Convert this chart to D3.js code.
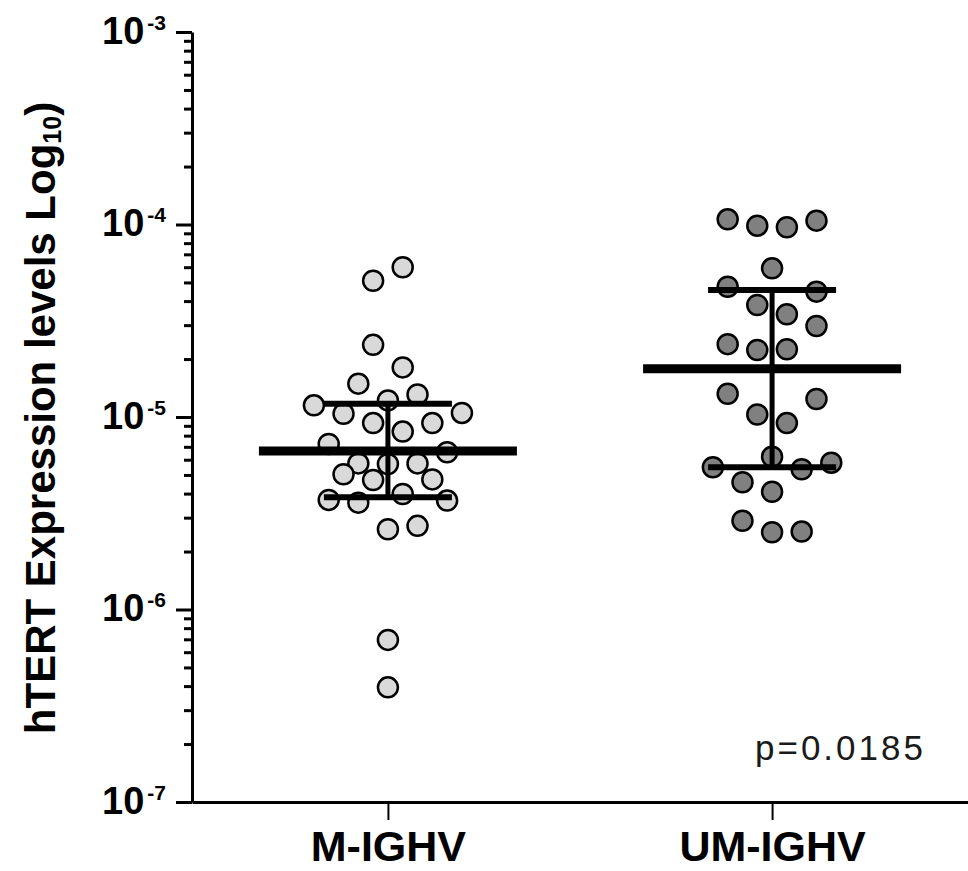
<!DOCTYPE html>
<html>
<head>
<meta charset="utf-8">
<script src="https://cdn.jsdelivr.net/npm/d3@7"></script>
<style>
  body { margin: 0; background: #fff; }
  svg { display: block; font-family: Arial, 'Liberation Sans', sans-serif; }
</style>
</head>
<body>
<script>
// groups on the x axis
const categories = ['M-IGHV', 'UM-IGHV'];

// hTERT values, with the dot column offset of the scatter
const mValues = [5.1e-5, 6.0e-5, 2.37e-5, 1.81e-5, 1.49e-5, 1.22e-5, 1.31e-5, 1.15e-5, 1.04e-5, 1.05e-5,
                 9.3e-6, 8.4e-6, 9.3e-6, 7.24e-6, 6.56e-6, 5.74e-6, 5.70e-6, 5.74e-6, 5.04e-6, 4.71e-6,
                 4.74e-6, 3.71e-6, 3.59e-6, 3.98e-6, 3.68e-6, 2.61e-6, 2.72e-6, 6.95e-7, 3.94e-7];
const mOffsets = [-1, 1, -1, 1, -2, 0, 2, -5, -3, 5,
                  -1, 1, 3, -4, 4, -2, 0, 2, -3, -1,
                  3, -4, -2, 1, 4, 0, 2, 0, 0];

const umValues = [1.064e-4, 9.86e-5, 9.67e-5, 1.047e-4, 5.92e-5, 4.75e-5, 4.48e-5, 3.82e-5, 3.42e-5, 2.97e-5,
                  2.39e-5, 2.23e-5, 2.25e-5, 1.32e-5, 1.24e-5, 1.03e-5, 9.3e-6, 6.22e-6, 5.48e-6, 5.35e-6,
                  5.79e-6, 4.58e-6, 4.09e-6, 2.89e-6, 2.52e-6, 2.54e-6];
const umOffsets = [-3, -1, 1, 3, 0, -3, 3, -1, 1, 3,
                   -3, -1, 1, -3, 3, -1, 1, 0, -4, 2,
                   4, -2, 0, -2, 0, 2];

// mean and error bar ends per group
const means = [6.66e-6, 1.78e-5];
const upperBars = [1.17e-5, 4.57e-5];
const lowerBars = [3.83e-6, 5.48e-6];

// axis ticks
const decadeExponents = [-7, -6, -5, -4, -3];
const minorMultipliers = [2, 3, 4, 5, 6, 7, 8, 9];

const pLabel = 'p=0.0185';
const fills = ['#d9d9d9', '#808080'];

const width = 968, height = 871;
const svg = d3.select('body').append('svg')
    .attr('width', width)
    .attr('height', height);

const yScale = d3.scaleLog()
    .domain([1e-7, 1e-3])
    .range([802, 32]);

const xScale = d3.scalePoint()
    .domain(categories)
    .range([192, 968])
    .padding(0.51);

const jitter = d3.scaleLinear()
    .domain([-1, 1])
    .range([-14.8, 14.8]);

const majorTicks = decadeExponents.map(e => Math.pow(10, e));
const minorTicks = [];
decadeExponents.slice(0, -1).forEach(e => {
    minorMultipliers.forEach(m => minorTicks.push(m * Math.pow(10, e)));
});

// minor ticks (no labels)
svg.append('g')
    .attr('class', 'y-minor')
    .attr('transform', 'translate(192,0)')
    .call(d3.axisLeft(yScale).tickValues(minorTicks).tickSize(8).tickSizeOuter(0).tickFormat(''))
    .call(g => g.select('.domain').remove())
    .call(g => g.selectAll('line').attr('stroke', '#000').attr('stroke-width', 3));

// major ticks with 10^n labels
const yAxis = svg.append('g')
    .attr('class', 'y-axis')
    .attr('transform', 'translate(192,0)')
    .call(d3.axisLeft(yScale).tickValues(majorTicks).tickSize(16).tickSizeOuter(0).tickPadding(10));

yAxis.select('.domain').attr('stroke', '#000').attr('stroke-width', 3);
yAxis.selectAll('line').attr('stroke', '#000').attr('stroke-width', 3);
yAxis.selectAll('.tick text')
    .attr('font-size', 38)
    .attr('font-weight', 'bold')
    .attr('fill', '#000')
    .attr('dy', 11)
    .each(function(d) {
        const t = d3.select(this);
        t.text(null);
        t.append('tspan').text('10');
        t.append('tspan')
            .attr('dx', 3)
            .attr('dy', -14)
            .attr('font-size', 21)
            .text(Math.round(Math.log10(d)));
    });

// x axis
const xAxis = svg.append('g')
    .attr('class', 'x-axis')
    .attr('transform', 'translate(0,802)')
    .call(d3.axisBottom(xScale).tickSize(18).tickSizeOuter(0));

xAxis.select('.domain').attr('stroke', '#000').attr('stroke-width', 3);
xAxis.selectAll('line').attr('stroke', '#000').attr('stroke-width', 2);
xAxis.selectAll('.tick text')
    .attr('y', 59)
    .attr('dy', null)
    .attr('font-size', 43)
    .attr('font-weight', 'bold')
    .attr('fill', '#000');

// y axis title
svg.append('text')
    .attr('transform', 'translate(55,418) rotate(-90)')
    .attr('text-anchor', 'middle')
    .attr('font-size', 42)
    .attr('font-weight', 'bold')
    .call(t => {
        t.append('tspan').text('hTERT Expression levels Log');
        t.append('tspan').attr('font-size', 25).attr('dy', 6).text('10');
        t.append('tspan').attr('dy', -6).text(')');
    });

// dots
const groups = [
    { cat: categories[0], values: mValues, offsets: mOffsets, fill: fills[0] },
    { cat: categories[1], values: umValues, offsets: umOffsets, fill: fills[1] }
];

const dotsG = svg.append('g').attr('class', 'dots');
groups.forEach(grp => {
    dotsG.append('g')
        .selectAll('circle')
        .data(grp.values)
        .enter()
        .append('circle')
        .attr('cx', (d, i) => xScale(grp.cat) + jitter(grp.offsets[i]))
        .attr('cy', d => yScale(d))
        .attr('r', 10)
        .attr('fill', grp.fill)
        .attr('stroke', '#000')
        .attr('stroke-width', 2.5);
});

// mean and error bars
const statsG = svg.append('g').attr('class', 'stats');
categories.forEach((cat, i) => {
    const cx = xScale(cat);
    statsG.append('line')
        .attr('x1', cx).attr('x2', cx)
        .attr('y1', yScale(upperBars[i])).attr('y2', yScale(lowerBars[i]))
        .attr('stroke', '#000').attr('stroke-width', 5);
    [upperBars[i], lowerBars[i]].forEach(v => {
        statsG.append('line')
            .attr('x1', cx - 64).attr('x2', cx + 64)
            .attr('y1', yScale(v)).attr('y2', yScale(v))
            .attr('stroke', '#000').attr('stroke-width', 6);
    });
    statsG.append('line')
        .attr('x1', cx - 129).attr('x2', cx + 129)
        .attr('y1', yScale(means[i])).attr('y2', yScale(means[i]))
        .attr('stroke', '#000').attr('stroke-width', 9);
});

// p value
svg.append('text')
    .attr('x', 755)
    .attr('y', 760)
    .attr('font-size', 35)
    .attr('letter-spacing', 3)
    .attr('fill', '#1a1a1a')
    .text(pLabel);
</script>
</body>
</html>
